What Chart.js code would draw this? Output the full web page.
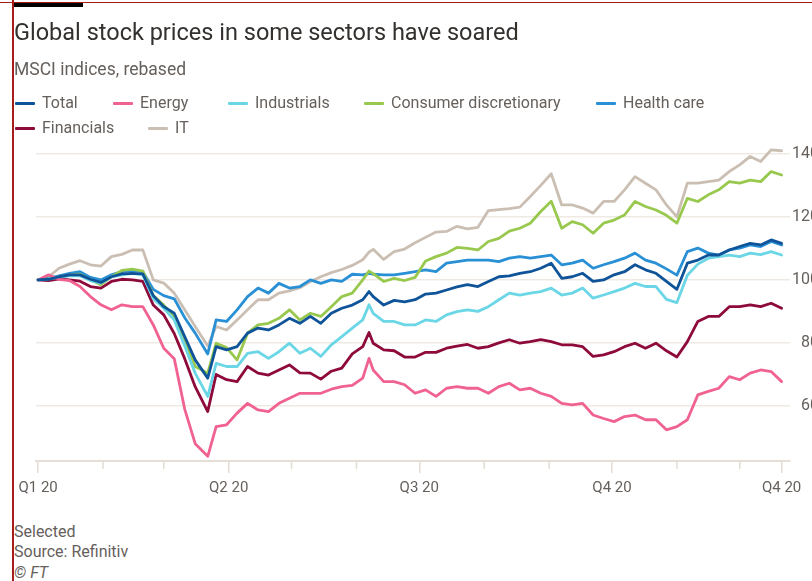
<!DOCTYPE html>
<html><head><meta charset="utf-8">
<script src="https://cdn.jsdelivr.net/npm/chart.js@4.4.1/dist/chart.umd.min.js"></script>
<style>
html,body{margin:0;padding:0;background:#fff;width:812px;height:581px;overflow:hidden;}
body{position:relative;font-family:Roboto,"Liberation Sans",Arial,sans-serif;color:#66605c;}
.abs{position:absolute;white-space:nowrap;z-index:2;}
#frameTop{position:absolute;left:0;top:2px;width:812px;height:1px;background:#a81c1c;z-index:3;}
#frameLeft{position:absolute;left:12px;top:0;width:2px;height:581px;background:#a81c1c;z-index:3;}
#bar{position:absolute;left:14px;top:3px;width:69px;height:4px;background:#000;z-index:3;}
#title{left:14px;top:17px;font-size:23.5px;line-height:30px;color:#33302e;}
#subtitle{left:14px;top:59px;font-size:17.5px;line-height:20px;color:#66605c;}
.leg{position:absolute;height:20px;line-height:20px;font-size:16px;color:#66605c;white-space:nowrap;z-index:2;}
.leg i{position:absolute;left:0;top:8.5px;width:20px;height:3px;border-radius:1px;}
.leg span{position:absolute;left:27px;top:0;}
.foot{left:14px;font-size:16px;line-height:20px;color:#66605c;}
#wrap{position:absolute;left:0;top:0;width:820px;height:520px;z-index:1;}
</style></head>
<body>
<div id="frameTop"></div><div id="frameLeft"></div><div id="bar"></div>
<div id="title" class="abs">Global stock prices in some sectors have soared</div>
<div id="subtitle" class="abs">MSCI indices, rebased</div>
<div id="legend"></div>
<div id="wrap"><canvas id="c"></canvas></div>
<div class="abs foot" style="top:522px">Selected</div>
<div class="abs foot" style="top:542px">Source: Refinitiv</div>
<div class="abs foot" style="top:563px;font-style:italic">© FT</div>
<script>
// Day of year 2020 (0 = 1 Jan) for each reading
const dates = [0,5,10,15,20,25,30,35,40,45,50,55,60,65,70,75,81,85,90,95,100,105,110,115,120,125,130,135,140,145,150,155,158,160,165,170,175,180,185,190,195,200,205,210,215,220,225,230,235,240,245,250,255,260,265,270,275,280,285,290,295,300,305,310,315,320,325,330,335,340,345,350,355];

const total = [100,100.2,101,101.6,101.6,100.2,99.2,101,101.9,102.1,
101.9,95,91.5,89.4,82,74.6,68.8,78.8,77.8,78.8,
83.1,84.7,84.1,85.7,87.8,86.2,88.4,86.2,89.4,91,
92,93.7,96.3,94.7,92,93.5,93,93.7,95.5,95.8,
96.8,97.8,98.5,97.9,99.5,101,101.3,102.1,102.6,103.7,
105.3,100.5,101,102.1,99.5,100,101.6,102.6,104.8,103.2,
102.1,99.5,97,105.3,106.3,107.9,107.9,109.5,110.6,111.6,
111.1,112.7,111.6];

const energy = [100,101.6,100.2,99.8,97.9,94.7,92.1,90.5,92.1,91.5,
91.5,85.7,78.3,75,59,48,44,53.4,54,57.7,
60.8,58.7,58.2,60.8,62.4,64,64,64,65.3,66.1,
66.5,68.8,75.1,71.4,67.7,67.7,66.7,64,65.1,63,
65.6,66.1,65.6,65.6,64,66.1,67.2,65.1,65.6,64,
63,60.8,60.3,60.8,57.1,56,55,56.6,57.1,55.6,
55.6,52.4,53.4,55.6,63.5,64.6,65.6,69.3,68.3,70.4,
71.4,70.9,67.7];

const industrials = [100,100.3,100.8,101.3,101.3,99.8,99,101,101.6,102.1,
101.6,94,91,87.3,79,70.4,63,73.5,72.5,72.5,
76.7,77.2,75.1,77.2,79.9,76.7,78.3,75.7,79.4,82,
84.7,87.3,92.1,89.4,86.8,86.8,85.7,85.7,87.3,86.8,
88.9,89.9,90.5,90,91.5,93.7,95.8,95.2,95.8,96.3,
97.4,95.2,95.8,97.4,94.2,95.2,96.3,97.4,98.9,97.9,
97.9,93.8,92.8,101.5,105,106.9,107.4,107.9,107.4,108.5,
108,109,107.9];

const consumerDiscretionary = [100,100.3,101,101.5,101.8,100,98.5,101,103,103.4,
102.8,95,92,88.4,81,72.5,70.4,79.9,78.5,74.6,
83.1,85.7,86.2,87.8,90.5,87.3,89.4,88.4,91.5,94.7,
95.8,100,102.8,102,99.5,100.5,99.8,100.8,106,107.4,
108.5,110.3,110,109.5,112.2,113.2,115.5,116.4,118,121.7,
125,116.4,118.5,117.5,114.8,118,119,120.6,124.9,123.3,
122.2,120.5,118,125.9,124.9,127,128.6,131.2,130.7,131.7,
131.2,134.4,133.3];

const healthCare = [100,100.5,101.3,102.1,102.6,100.8,100,101.6,102.6,103,
102.6,97,95,94,88,83.1,76.5,87.3,86.8,90.5,
94.7,97.4,95.8,98.9,97.4,97.9,100,98.9,100,99.5,
101.8,101.6,102.1,101.8,101.6,101.6,102.1,102.6,103.2,102.6,
105.3,105.8,106.3,106.3,106.3,105.8,106.9,107.4,106.9,107.4,
107.9,104.8,105.3,106.3,103.7,104.8,105.8,106.9,108.5,106.3,
105.3,103.5,101.5,109,110.1,108.5,107.9,109.5,110.1,111.1,
110.6,112.2,111.1];

const financials = [100,99.8,100.3,100,99.6,97.9,97.4,99.5,100.2,100,
99.5,92,88.9,83,75,66.1,58.2,70,68.3,67.7,
72.5,70.4,69.8,71.4,73,70.5,70.4,68.5,71,72,
76.5,78.8,83.3,79.9,77.8,77.5,75.5,75.5,77,77,
78.3,79,79.5,78.3,78.8,80,81,79.9,80.4,81,
80.4,79.4,79.4,78.8,75.7,76.2,77.2,78.8,79.9,78.3,
79.9,77.5,75.5,80.4,86.8,88.4,88.4,91.5,91.5,92.1,
91.5,92.6,91];

const it = [100,101,103.7,105,106.1,104.8,104.4,107.4,108.1,109.5,
109.5,100,99,95.8,90.5,85.2,79,85.2,84.1,87.3,
90.5,93.7,93.7,95.8,96.5,97.5,99.5,101,102.3,103.3,
104.6,106.4,108.8,109.7,106.5,109,109.8,111.8,113.5,115.2,
115.4,117,116.2,116.7,122,122.3,122.6,123.1,126.5,130,
133.7,123.8,123.8,122.8,121.2,124.9,124.9,128.6,132.8,130.7,
128.6,123.8,120,130.7,130.7,131.2,131.7,134.4,136.5,139.2,
137.6,141.3,141];

const seriesNames = ['Total','Energy','Industrials','Consumer discretionary','Health care','Financials','IT'];
const seriesValues = [total, energy, industrials, consumerDiscretionary, healthCare, financials, it];
const seriesColors = ['#0f5499','#f0628f','#6ad6e6','#98c84e','#2a90d6','#8d0a3b','#cbbfb4'];

const yTicks = [60,80,100,120,140];
const xTickDays = [0,91,182,274,355];
const xTickLabels = ['Q1 20','Q2 20','Q3 20','Q4 20','Q4 20'];
const monthStarts = [0,31,60,91,121,152,182,213,244,274,305,335,355];

// HTML legend
const legendPos = [[15,93],[113,93],[228,93],[364,93],[596,93],[15,118],[148,118]];
const lg = document.getElementById('legend');
seriesNames.forEach((n,i)=>{
  const d = document.createElement('div');
  d.className='leg';
  d.style.left = legendPos[i][0]+'px';
  d.style.top = legendPos[i][1]+'px';
  d.innerHTML = '<i style="background:'+seriesColors[i]+'"></i><span>'+n+'</span>';
  lg.appendChild(d);
});

const FONT = 'Roboto, "Liberation Sans", Arial, sans-serif';
const tickColor = '#e3dcd4';

const minorTicks = {
  id:'minorTicks',
  afterDraw(c){
    const xs = c.scales.x, ctx = c.ctx, b = c.chartArea.bottom;
    ctx.save();
    ctx.strokeStyle = tickColor; ctx.lineWidth = 1.5;
    monthStarts.forEach(d=>{
      if (xTickDays.includes(d)) return;
      const px = xs.getPixelForValue(d);
      ctx.beginPath(); ctx.moveTo(px,b); ctx.lineTo(px,b+8); ctx.stroke();
    });
    ctx.restore();
  }
};

new Chart(document.getElementById('c'), {
  type:'line',
  data:{
    datasets: seriesNames.map((n,i)=>({
      label:n,
      data: dates.map((d,j)=>({x:d, y:seriesValues[i][j]})),
      borderColor: seriesColors[i],
      backgroundColor: seriesColors[i],
      borderWidth: 2.8,
      pointRadius: 0,
      tension: 0,
      fill: false,
      borderJoinStyle:'round',
      borderCapStyle:'round'
    }))
  },
  options:{
    responsive:true, maintainAspectRatio:false, animation:false,
    layout:{padding:{left:36,right:1,top:141,bottom:19}},
    plugins:{legend:{display:false}, tooltip:{enabled:false}, title:{display:false}},
    scales:{
      x:{
        type:'linear', min:-1, max:359,
        grid:{drawOnChartArea:false, drawTicks:true, tickLength:12, color:tickColor, lineWidth:1.5},
        border:{display:true, color:'#e6dfd8', width:2},
        ticks:{autoSkip:false, maxRotation:0, padding:6, color:'#66605c', font:{size:15, family:FONT},
          callback:(v)=>{ const k = xTickDays.indexOf(v); return k>=0 ? xTickLabels[k] : ''; }},
        afterBuildTicks:(a)=>{ a.ticks = xTickDays.map(v=>({value:v})); },
        afterFit:(a)=>{ a.height = 40; }
      },
      y:{
        position:'right', min:42.5, max:144.1,
        grid:{color:'#efe9e3', lineWidth:1.5, drawTicks:false},
        border:{display:false},
        ticks:{padding:2, crossAlign:'far', color:'#66605c', font:{size:16, family:FONT}},
        afterBuildTicks:(a)=>{ a.ticks = yTicks.map(v=>({value:v})); },
        afterFit:(a)=>{ a.width = 29; }
      }
    }
  },
  plugins:[minorTicks]
});
</script>
</body></html>
